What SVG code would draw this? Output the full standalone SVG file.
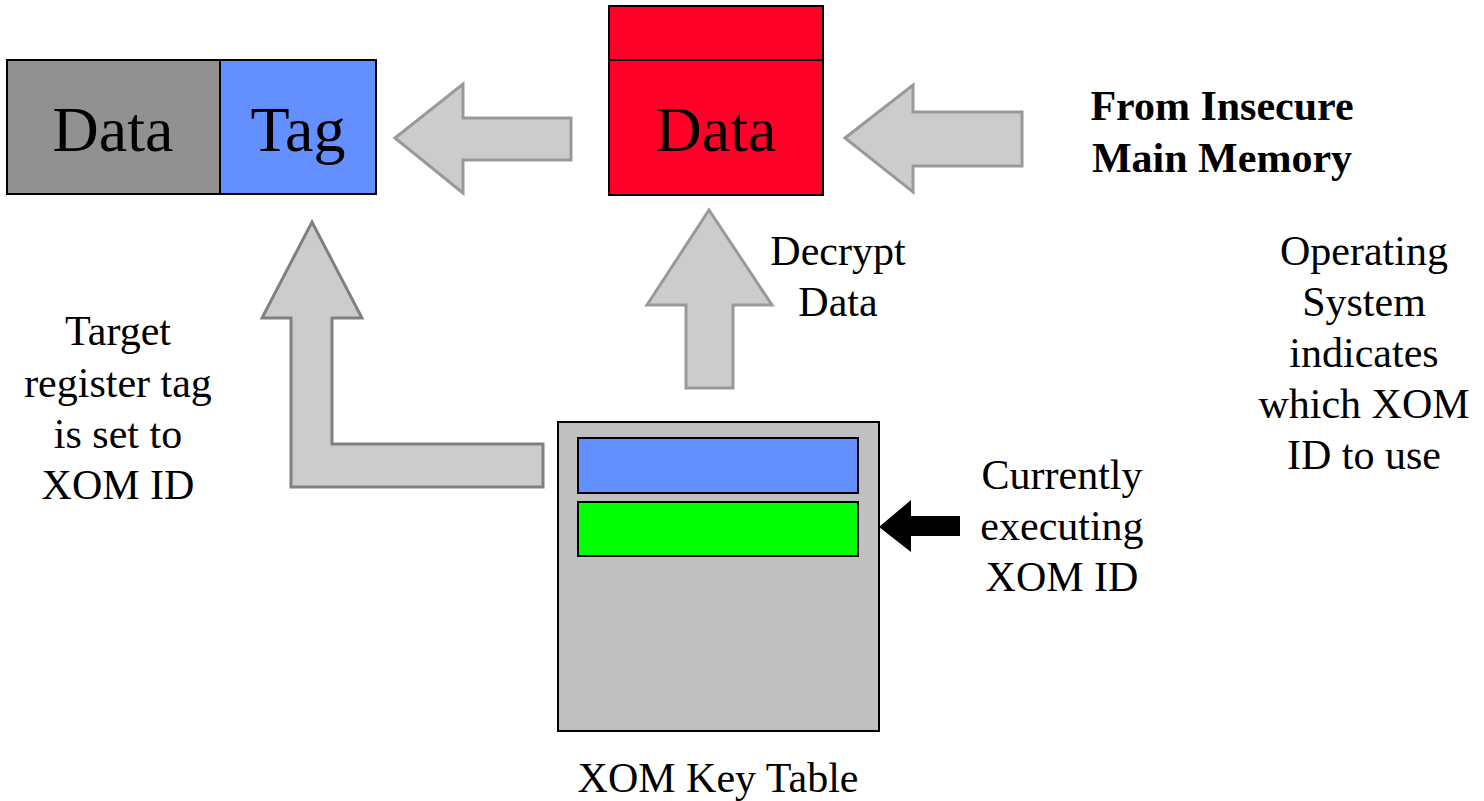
<svg xmlns="http://www.w3.org/2000/svg" width="1484" height="801" viewBox="0 0 1484 801">
  <style>
    .serif { font-family: "Liberation Serif", "Times New Roman", serif; fill: #000; }
    .big { font-size: 64px; text-anchor: middle; }
    .lbl { font-size: 42px; text-anchor: middle; }
    .bold { font-weight: bold; }
    .box { stroke: #000; stroke-width: 2; }
    .flow { fill: #cccccc; stroke: #999999; stroke-width: 3; stroke-linejoin: miter; }
    .flow-dark { fill: #cccccc; stroke: #808080; stroke-width: 3; }
  </style>
  <rect width="1484" height="801" fill="#fff"/>

  <!-- register: data + tag -->
  <g id="register">
    <rect class="box" x="7" y="60" width="213" height="134" fill="#919191"/>
    <rect class="box" x="220" y="60" width="156" height="134" fill="#638fff"/>
    <text class="serif big" x="113" y="151">Data</text>
    <text class="serif big" x="298" y="151">Tag</text>
  </g>

  <!-- encrypted cache line -->
  <g id="cache-line">
    <rect class="box" x="609" y="6" width="214" height="189" fill="#ff0029"/>
    <line x1="609" y1="60" x2="823" y2="60" stroke="#000" stroke-width="2"/>
    <text class="serif big" x="716" y="151">Data</text>
  </g>

  <!-- key table -->
  <g id="key-table">
    <rect class="box" x="558" y="422" width="321" height="309" fill="#c0c0c0"/>
    <rect class="box" x="578" y="438" width="280" height="55" fill="#638fff"/>
    <rect class="box" x="578" y="502" width="280" height="54" fill="#00ff00"/>
    <text class="serif lbl" x="718" y="792">XOM Key Table</text>
  </g>

  <!-- connectors -->
  <g id="connectors">
    <polygon class="flow" points="395,138 463,84 463,118 571,118 571,160 463,160 463,193"/>
    <polygon class="flow" points="845,138 913,85 913,112 1022,112 1022,166 913,166 913,192"/>
    <polygon class="flow-dark" points="312,222 362,318 332,318 332,444 543,444 543,487 291,487 291,318 262,318"/>
    <polygon class="flow" points="709,210 772,305 733,305 733,388 686,388 686,305 647,305"/>
    <polygon fill="#000" points="879,527 911,500 911,516 960,516 960,536 911,536 911,552"/>
  </g>

  <!-- labels -->
  <g id="labels">
    <text class="serif lbl bold" x="1222" y="120">From Insecure</text>
    <text class="serif lbl bold" x="1222" y="172">Main Memory</text>
    <text class="serif lbl" x="838" y="265">Decrypt</text>
    <text class="serif lbl" x="838" y="316">Data</text>
    <text class="serif lbl" x="1364" y="265">Operating</text>
    <text class="serif lbl" x="1364" y="316">System</text>
    <text class="serif lbl" x="1364" y="367">indicates</text>
    <text class="serif lbl" x="1364" y="418">which XOM</text>
    <text class="serif lbl" x="1364" y="469">ID to use</text>
    <text class="serif lbl" x="118" y="345">Target</text>
    <text class="serif lbl" x="118" y="397">register tag</text>
    <text class="serif lbl" x="118" y="448">is set to</text>
    <text class="serif lbl" x="118" y="499">XOM ID</text>
    <text class="serif lbl" x="1062" y="489">Currently</text>
    <text class="serif lbl" x="1062" y="540">executing</text>
    <text class="serif lbl" x="1062" y="591">XOM ID</text>
  </g>
</svg>
